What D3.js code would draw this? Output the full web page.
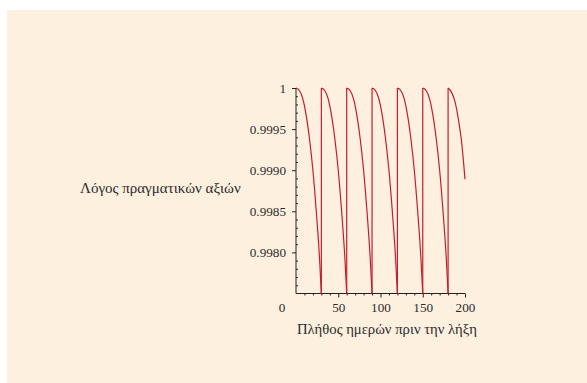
<!DOCTYPE html>
<html>
<head>
<meta charset="utf-8">
<script src="https://cdn.jsdelivr.net/npm/d3@7"></script>
<style>
  html, body { margin: 0; padding: 0; background: #ffffff; }
  svg { display: block; }
  svg text { font-family: "Liberation Serif", "Times New Roman", serif !important; fill: #2b2b2b; }
</style>
</head>
<body>
<svg id="chart" width="587" height="383"></svg>
<script>
// ---- data ----
const resetDays = [0, 30, 60, 90, 120, 150, 180];
const dayOffsets = [0, 4, 8, 12, 16, 20, 24, 28, 30];
const seg1 = [1.0, 0.99997, 0.99987, 0.99967, 0.99938, 0.99900, 0.99850, 0.99790, 0.99750];
const seg2 = [1.0, 0.99997, 0.99987, 0.99967, 0.99938, 0.99900, 0.99850, 0.99790, 0.99750];
const seg3 = [1.0, 0.99997, 0.99987, 0.99967, 0.99938, 0.99900, 0.99850, 0.99790, 0.99750];
const seg4 = [1.0, 0.99997, 0.99987, 0.99967, 0.99938, 0.99900, 0.99850, 0.99790, 0.99750];
const seg5 = [1.0, 0.99997, 0.99987, 0.99967, 0.99938, 0.99900, 0.99850, 0.99790, 0.99750];
const seg6 = [1.0, 0.99997, 0.99987, 0.99967, 0.99938, 0.99900, 0.99850, 0.99790, 0.99750];
const seg7 = [1.0, 0.99995, 0.99984, 0.99963, 0.99934, 0.99889];
const segments = [seg1, seg2, seg3, seg4, seg5, seg6, seg7];

const yTickValues = [1, 0.9995, 0.999, 0.9985, 0.998];
const yTickLabels = ["1", "0.9995", "0.9990", "0.9985", "0.9980"];
const yMinorTicks = [0.9976, 0.9977, 0.9978, 0.9979, 0.9981, 0.9982, 0.9983, 0.9984,
                     0.9986, 0.9987, 0.9988, 0.9989, 0.9991, 0.9992, 0.9993, 0.9994,
                     0.9996, 0.9997, 0.9998, 0.9999];
const xTickValues = [50, 100, 150, 200];
const xTickLabels = ["50", "100", "150", "200"];
const xMinorTicks = [10, 20, 30, 40, 60, 70, 80, 90, 110, 120, 130, 140, 160, 170, 180, 190];
const originLabel = "0";
const xTitle = "Πλήθος ημερών πριν την λήξη";
const yTitle = "Λόγος πραγματικών αξιών";

// ---- layout ----
const svg = d3.select("#chart");
svg.append("rect").attr("x", 7).attr("y", 10).attr("width", 580).attr("height", 373)
  .attr("fill", "#fdf0df");

const x = d3.scaleLinear().domain([0, 200]).range([296, 465]);
const y = d3.scaleLinear().domain([0.9975, 1]).range([293.5, 88]);

const lineColor = "#c41e2c";
const axisColor = "#222";

// y axis
const yAxisG = svg.append("g").attr("transform", `translate(${x(0)},0)`)
  .call(d3.axisLeft(y).tickValues(yTickValues).tickSize(4).tickPadding(6)
    .tickFormat((d, i) => yTickLabels[i]));
yAxisG.select(".domain").attr("d", `M0,${y(0.9975)}V${y(1)}`);
const yMinorG = svg.append("g").attr("transform", `translate(${x(0)},0)`)
  .call(d3.axisRight(y).tickValues(yMinorTicks).tickSize(2).tickFormat(""));
yMinorG.select(".domain").remove();

// x axis
const xAxisG = svg.append("g").attr("transform", `translate(0,${y(0.9975)})`)
  .call(d3.axisBottom(x).tickValues(xTickValues).tickSize(4).tickPadding(5)
    .tickFormat((d, i) => xTickLabels[i]));
xAxisG.select(".domain").attr("d", `M${x(0)},0H${x(200)}`);
const xMinorG = svg.append("g").attr("transform", `translate(0,${y(0.9975)})`)
  .call(d3.axisBottom(x).tickValues(xMinorTicks).tickSize(2).tickFormat(""));
xMinorG.select(".domain").remove();

svg.selectAll("g").attr("font-family", null);
svg.selectAll(".domain, .tick line").attr("stroke", axisColor).attr("stroke-width", 1);
svg.selectAll(".tick text").attr("font-size", 13.2).attr("fill", "#2b2b2b");

svg.append("text").attr("x", x(0) - 14).attr("y", y(0.9975) + 18)
  .attr("text-anchor", "middle").attr("font-size", 13.2).text(originLabel);

// curves
const line = d3.line().x(d => x(d[0])).y(d => y(d[1])).curve(d3.curveMonotoneX);
const plotG = svg.append("g");
segments.forEach((seg, i) => {
  const start = resetDays[i];
  const pts = seg.map((v, j) => [start + dayOffsets[j], v]);
  plotG.append("path").attr("d", line(pts)).attr("fill", "none")
    .attr("stroke", lineColor).attr("stroke-width", 1.2);
  if (i > 0) {
    const prev = segments[i - 1];
    const vline = d3.line().x(d => x(d[0])).y(d => y(d[1]));
    plotG.append("path")
      .attr("d", vline([[start, prev[prev.length - 1]], [start, seg[0]]]))
      .attr("fill", "none").attr("stroke", lineColor).attr("stroke-width", 1.2);
  }
});

// titles
svg.append("text").attr("x", 297).attr("y", 334).attr("font-size", 14.7).text(xTitle);
svg.append("text").attr("x", 80).attr("y", 193).attr("font-size", 15).text(yTitle);
</script>
</body>
</html>
